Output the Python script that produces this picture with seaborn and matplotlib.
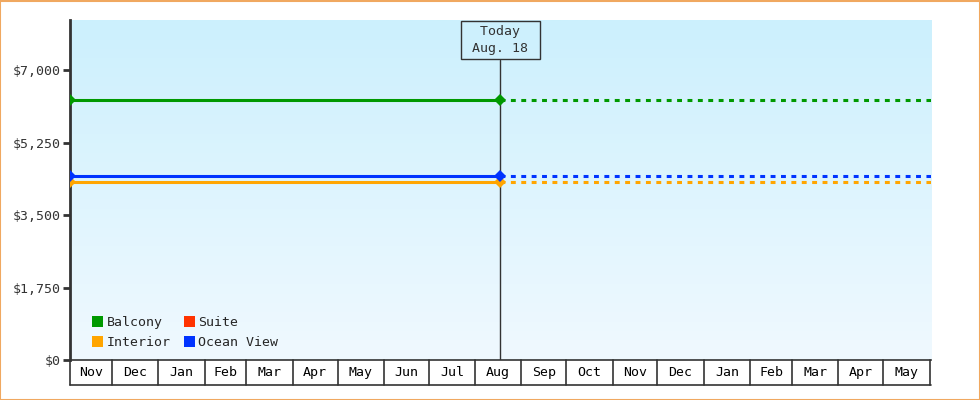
import matplotlib
matplotlib.use("Agg")
import matplotlib.pyplot as plt
import matplotlib.patches as patches
from matplotlib.colors import LinearSegmentedColormap
from matplotlib.ticker import FuncFormatter
import numpy as np
import pandas as pd
import seaborn as sns

# data
cabins = ["Balcony", "Interior", "Suite", "Ocean View"]
prices = [6290, 4300, None, 4440]
today = pd.Timestamp("2025-08-18")
range_start = pd.Timestamp("2024-11-03")
range_end = pd.Timestamp("2026-06-02")
y_ticks = [0, 1750, 3500, 5250, 7000]
y_max = 8220

palette = {"Balcony": "#009900", "Interior": "#ffa500",
           "Suite": "#ff3300", "Ocean View": "#0033ff"}
dark = "#333333"

sns.set_theme(style="white")
plt.rcParams["font.family"] = ["DejaVu Sans Mono", "DejaVu Sans"]

rows_past, rows_future = [], []
for name, p in zip(cabins, prices):
    if p is None:
        continue
    rows_past += [(name, range_start, p), (name, today, p)]
    rows_future += [(name, today, p), (name, range_end, p)]
past = pd.DataFrame(rows_past, columns=["cabin", "date", "price"])
future = pd.DataFrame(rows_future, columns=["cabin", "date", "price"])

fig = plt.figure(figsize=(9.8, 4.0), dpi=100)
ax = fig.add_axes([70 / 980, 40 / 400, 861 / 980, 340 / 400])

# gradient background
cmap = LinearSegmentedColormap.from_list("bg", ["#f0f9ff", "#ccf0fd"])
ax.imshow(np.linspace(0, 1, 256).reshape(-1, 1), cmap=cmap, origin="lower",
          extent=[0, 1, 0, 1], transform=ax.transAxes, aspect="auto", zorder=0)

sns.lineplot(data=past, x="date", y="price", hue="cabin", palette=palette,
             linewidth=2.2, marker="D", markersize=6.5, markeredgewidth=0,
             legend=False, ax=ax, zorder=3)
sns.lineplot(data=future, x="date", y="price", hue="cabin", palette=palette,
             linewidth=2.2, legend=False, ax=ax, zorder=2)
n = len([p for p in prices if p is not None])
for line in ax.lines[n:]:
    line.set_dashes((1.6, 1.8))
    line.set_dash_capstyle("butt")

ax.set_xlim(range_start, range_end)
ax.set_ylim(0, y_max)
ax.set_xlabel("")
ax.set_ylabel("")

# y axis
ax.set_yticks(y_ticks)
ax.yaxis.set_major_formatter(FuncFormatter(lambda v, _: f"${v:,.0f}"))
ax.tick_params(axis="y", direction="out", length=5, width=2, color=dark,
               labelcolor=dark, labelsize=9.5, pad=2, left=True)
ax.set_xticks([])
for s in ["top", "right"]:
    ax.spines[s].set_visible(False)
ax.spines["left"].set_color(dark)
ax.spines["left"].set_linewidth(2)
ax.spines["bottom"].set_color(dark)
ax.spines["bottom"].set_linewidth(1.2)

# month boxes below the axis
box_bottom = -25 / 340
trans = ax.get_xaxis_transform()
bounds = [range_start] + list(pd.date_range(range_start, range_end, freq="MS")) + [range_end]
bounds = sorted(set(bounds))
for b in bounds[:-1]:
    ax.plot([b, b], [0, box_bottom], color=dark, lw=1.2, transform=trans, clip_on=False)
ax.plot([range_start, range_end], [box_bottom, box_bottom], color=dark, lw=1.2,
        transform=trans, clip_on=False)
for a, b in zip(bounds[:-1], bounds[1:]):
    if (b - a).days < 10:
        continue
    mid = a + (b - a) / 2
    ax.text(mid, box_bottom / 2, a.strftime("%b"), ha="center", va="center",
            fontsize=9.5, color="black", transform=trans, clip_on=False)

# today marker
ax.axvline(today, ymin=0, ymax=(360 - 60) / 340, color=dark, lw=1, zorder=1)
ax.text(today, (360 - 40) / 340, " Today \n" + " Aug. " + str(today.day) + " ",
        transform=trans, ha="center", va="center", fontsize=9.5, color=dark,
        linespacing=1.35,
        bbox=dict(boxstyle="square,pad=0.3", facecolor="none", edgecolor=dark, lw=1))

# legend
handles = [patches.Patch(facecolor=palette[c], edgecolor="none", label=c) for c in cabins]
ax.legend(handles=handles, ncol=2, loc="lower left", bbox_to_anchor=(0.012, -0.003),
          frameon=False, fontsize=9.5, handlelength=0.85, handleheight=0.85,
          handletextpad=0.25, columnspacing=1.0, labelspacing=0.55)

# figure border
fig.patches.append(patches.Rectangle((0.0005, 0.001), 0.999, 0.9975, transform=fig.transFigure,
                                     fill=False, edgecolor="#f0a860", lw=1.5))

plt.savefig("out.png", dpi=100)
